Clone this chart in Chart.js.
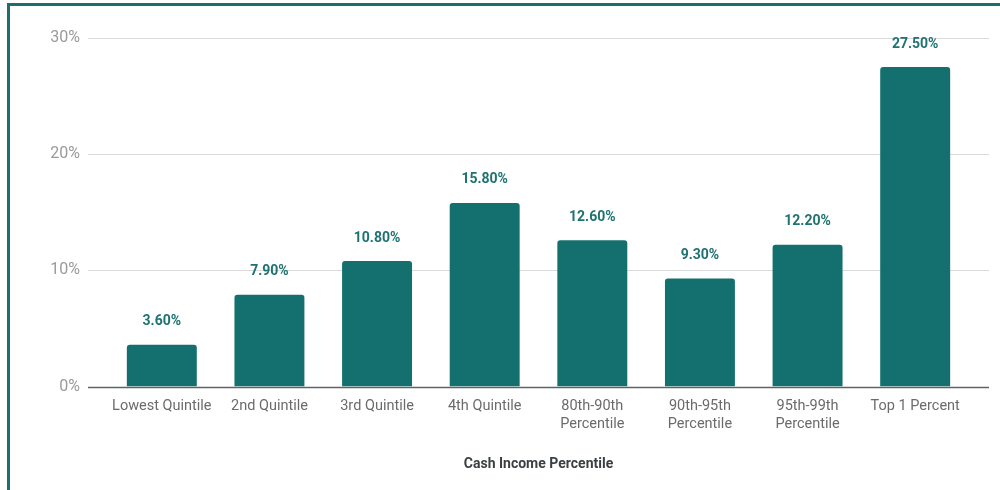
<!DOCTYPE html>
<html>
<head>
<meta charset="utf-8">
<script src="https://cdn.jsdelivr.net/npm/chart.js@4.4.1/dist/chart.umd.min.js"></script>
<style>
  html, body { margin: 0; padding: 0; background: #ffffff; }
  #wrap { position: relative; width: 1000px; height: 490px; overflow: hidden; }
  #frame {
    position: absolute; left: 7px; top: 3px; width: 1100px; height: 600px;
    border-left: 3px solid #1d6f6f; border-top: 3px solid #1d6f6f;
    box-sizing: border-box;
  }
  #chart { position: absolute; left: 0; top: 0; }
</style>
</head>
<body>
<div id="wrap">
  <div id="frame"></div>
  <canvas id="chart" width="1000" height="490"></canvas>
</div>
<script>
// Share of the tax change by cash income group
const categories = [
  'Lowest Quintile',
  '2nd Quintile',
  '3rd Quintile',
  '4th Quintile',
  ['80th-90th', 'Percentile'],
  ['90th-95th', 'Percentile'],
  ['95th-99th', 'Percentile'],
  'Top 1 Percent'
];
const shareValues = [3.6, 7.9, 10.8, 15.8, 12.6, 9.3, 12.2, 27.5];
const yTicks = [0, 10, 20, 30];

const TEAL = '#14706f';
const FONT = 'Roboto, "Noto Sans", sans-serif';

// Horizontal grid lines that run a little past the plot on both sides
const gridPlugin = {
  id: 'wideGrid',
  beforeDatasetsDraw(chart) {
    const { ctx, chartArea, scales } = chart;
    const y = scales.y;
    const ext = 20;
    ctx.save();
    y.ticks.forEach(t => {
      const py = Math.round(y.getPixelForValue(t.value)) + 0.5;
      ctx.beginPath();
      if (t.value === 0) {
        ctx.strokeStyle = '#5f6368';
        ctx.lineWidth = 1.5;
      } else {
        ctx.strokeStyle = '#dadada';
        ctx.lineWidth = 1;
      }
      ctx.moveTo(chartArea.left - ext, py);
      ctx.lineTo(chartArea.right + ext, py);
      ctx.stroke();
    });
    ctx.restore();
  }
};

// Value labels above each bar
const valueLabels = {
  id: 'valueLabels',
  afterDatasetsDraw(chart) {
    const { ctx } = chart;
    const meta = chart.getDatasetMeta(0);
    const data = chart.data.datasets[0].data;
    ctx.save();
    ctx.font = 'bold 14px ' + FONT;
    ctx.fillStyle = '#1e7271';
    ctx.textAlign = 'center';
    ctx.textBaseline = 'middle';
    meta.data.forEach((bar, i) => {
      ctx.fillText(data[i].toFixed(2) + '%', bar.x, bar.y - 23);
    });
    ctx.restore();
  }
};

new Chart(document.getElementById('chart'), {
  type: 'bar',
  data: {
    labels: categories,
    datasets: [{
      data: shareValues,
      backgroundColor: TEAL,
      borderRadius: { topLeft: 3, topRight: 3 },
      borderSkipped: 'bottom',
      categoryPercentage: 1.0,
      barPercentage: 0.65
    }]
  },
  options: {
    responsive: false,
    animation: false,
    devicePixelRatio: 1,
    layout: { padding: { top: 38, right: 31, bottom: 13, left: 0 } },
    plugins: {
      legend: { display: false },
      tooltip: { enabled: false }
    },
    scales: {
      x: {
        grid: { display: false, drawTicks: false },
        border: { display: false },
        ticks: {
          color: '#6b6b6b',
          font: { family: FONT, size: 14.5, lineHeight: 1.3 },
          padding: 10,
          maxRotation: 0,
          autoSkip: false
        },
        title: {
          display: true,
          text: 'Cash Income Percentile',
          color: '#3c4043',
          font: { family: FONT, size: 14, weight: 'bold' },
          padding: { top: 12, bottom: 4 }
        }
      },
      y: {
        min: 0,
        max: 30,
        afterBuildTicks(scale) {
          scale.ticks = yTicks.map(v => ({ value: v }));
        },
        afterFit(scale) { scale.width = 108; },
        grid: { display: false, drawTicks: false },
        border: { display: false },
        ticks: {
          color: '#9a9a9a',
          font: { family: FONT, size: 16 },
          padding: 28,
          callback: v => v + '%'
        }
      }
    }
  },
  plugins: [gridPlugin, valueLabels]
});
</script>
</body>
</html>
